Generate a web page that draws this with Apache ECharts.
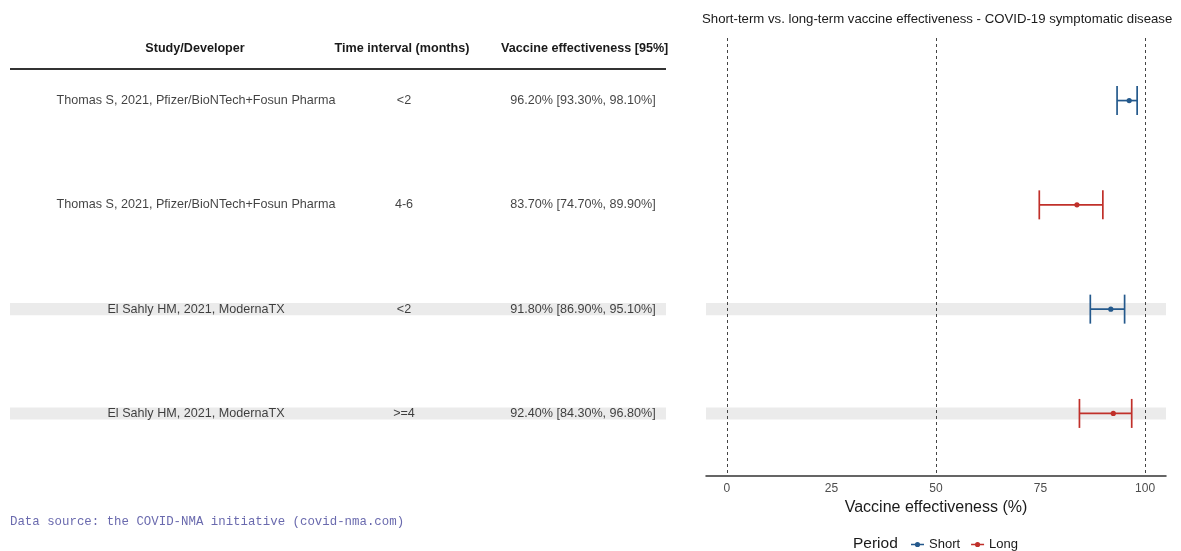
<!DOCTYPE html>
<html>
<head>
<meta charset="utf-8">
<script src="https://cdn.jsdelivr.net/npm/echarts@6/dist/echarts.min.js"></script>
<style>
html,body{margin:0;padding:0;background:#fff;}
#chart{width:1181px;height:551px;}
</style>
</head>
<body>
<div id="chart"></div>
<script>
// ---- data ----
const studies = [
  'Thomas S, 2021, Pfizer/BioNTech+Fosun Pharma',
  'Thomas S, 2021, Pfizer/BioNTech+Fosun Pharma',
  'El Sahly HM, 2021, ModernaTX',
  'El Sahly HM, 2021, ModernaTX'
];
const intervals = ['<2', '4-6', '<2', '>=4'];
const periods = ['Short', 'Long', 'Short', 'Long'];
const estimates = [96.2, 83.7, 91.8, 92.4];
const lowers = [93.3, 74.7, 86.9, 84.3];
const uppers = [98.1, 89.9, 95.1, 96.8];
const shaded = [false, false, true, true];
const xTicks = [0, 25, 50, 75, 100];
const refLines = [0, 50, 100];
const periodNames = ['Short', 'Long'];

// ---- styling ----
const FONT = '"Liberation Sans", Arial, sans-serif';
const colors = { Short: '#24598c', Long: '#c0302a' };
const rows = studies.map((_, i) => i + 1);
const bandHalf = 0.058;
const colStudy = 196, colInterval = 404, colVE = 583;
const TFS = 12.6;

const fmt = v => v.toFixed(2) + '%';
const veText = estimates.map((e, i) => `${fmt(e)} [${fmt(lowers[i])}, ${fmt(uppers[i])}]`);

const bandData = rows.filter((r, i) => shaded[i]).map(r => [{ yAxis: r - bandHalf }, { yAxis: r + bandHalf }]);

function textSeries(col, texts) {
  return {
    type: 'scatter', xAxisIndex: 0, yAxisIndex: 0, silent: true,
    symbol: 'circle', symbolSize: 1, itemStyle: { color: 'transparent' },
    data: rows.map((r, i) => ({ value: [col, r], txt: texts[i] })),
    label: { show: true, position: 'inside', color: '#111', fontSize: TFS, fontFamily: FONT,
      formatter: p => p.data.txt },
    z: 3
  };
}

function errSeries(name) {
  const data = [];
  rows.forEach((r, i) => { if (periods[i] === name) data.push([lowers[i], uppers[i], estimates[i], r]); });
  return {
    name, type: 'custom', xAxisIndex: 1, yAxisIndex: 1, silent: true,
    itemStyle: { color: colors[name] },
    encode: { x: [0, 1, 2], y: 3 },
    data,
    z: 4,
    renderItem: (params, api) => {
      const lo = api.coord([api.value(0), api.value(3)]);
      const hi = api.coord([api.value(1), api.value(3)]);
      const est = api.coord([api.value(2), api.value(3)]);
      const h = 14.5;
      const st = { stroke: colors[name], lineWidth: 1.7 };
      return { type: 'group', children: [
        { type: 'line', shape: { x1: lo[0], y1: lo[1], x2: hi[0], y2: hi[1] }, style: st },
        { type: 'line', shape: { x1: lo[0], y1: lo[1] - h, x2: lo[0], y2: lo[1] + h }, style: st },
        { type: 'line', shape: { x1: hi[0], y1: hi[1] - h, x2: hi[0], y2: hi[1] + h }, style: st },
        { type: 'circle', shape: { cx: est[0], cy: est[1], r: 2.6 }, style: { fill: colors[name] } }
      ]};
    }
  };
}

const chart = echarts.init(document.getElementById('chart'), null, { renderer: 'canvas' });
const option = {
  animation: false,
  backgroundColor: '#ffffff',
  textStyle: { fontFamily: FONT },
  title: {
    text: 'Short-term vs. long-term vaccine effectiveness - COVID-19 symptomatic disease',
    left: 697, top: 8,
    textStyle: { fontSize: 13.2, fontWeight: 'normal', color: '#1a1a1a', fontFamily: FONT }
  },
  grid: [
    { left: 10, width: 656, top: 38, height: 438 },
    { left: 706, width: 460, top: 38, height: 438 }
  ],
  xAxis: [
    { gridIndex: 0, type: 'value', min: 10, max: 666, show: false },
    { gridIndex: 1, type: 'value', min: -5, max: 105,
      axisLine: { show: true, onZero: false, lineStyle: { color: '#333', width: 1.5 } },
      axisTick: { show: false },
      splitLine: { show: false },
      axisLabel: { customValues: xTicks, color: '#4d4d4d', fontSize: 12, margin: 7, fontFamily: FONT },
      name: 'Vaccine effectiveness (%)', nameLocation: 'middle', nameGap: 23,
      nameTextStyle: { fontSize: 16, color: '#1a1a1a', fontFamily: FONT }
    }
  ],
  yAxis: [
    { gridIndex: 0, type: 'value', min: 0.4, max: 4.6, inverse: true, show: false },
    { gridIndex: 1, type: 'value', min: 0.4, max: 4.6, inverse: true, show: false }
  ],
  legend: {
    data: periodNames.map(n => ({
      name: n,
      icon: 'path://M0 5.3 H13 V6.7 H0 Z M9.1 6 A2.6 2.6 0 1 1 3.9 6 A2.6 2.6 0 1 1 9.1 6 Z',
      itemStyle: { color: colors[n] }
    })),
    left: 906, top: 533, itemWidth: 13, itemHeight: 6, itemGap: 11,
    textStyle: { fontSize: 13, color: '#1a1a1a', fontFamily: FONT },
    selectedMode: false
  },
  graphic: [
    { type: 'text', x: 853, y: 544, style: { text: 'Period', fontSize: 15.5, fill: '#1a1a1a', fontFamily: FONT, align: 'left', verticalAlign: 'middle' } },
    { type: 'text', x: 195, y: 49, style: { text: 'Study/Developer', fontSize: TFS, fontWeight: 'bold', fill: '#1a1a1a', fontFamily: FONT, align: 'center', verticalAlign: 'middle' } },
    { type: 'text', x: 402, y: 49, style: { text: 'Time interval (months)', fontSize: TFS, fontWeight: 'bold', fill: '#1a1a1a', fontFamily: FONT, align: 'center', verticalAlign: 'middle' } },
    { type: 'text', x: 501, y: 49, style: { text: 'Vaccine effectiveness [95%]', fontSize: TFS, fontWeight: 'bold', fill: '#1a1a1a', fontFamily: FONT, align: 'left', verticalAlign: 'middle' } },
    { type: 'line', shape: { x1: 10, y1: 69, x2: 666, y2: 69 }, style: { stroke: '#333', lineWidth: 2 } },
    { type: 'text', x: 10, y: 522, style: { text: 'Data source: the COVID-NMA initiative (covid-nma.com)', fontSize: 12.4, fill: '#6a6aae', fontFamily: '"Liberation Mono", "Courier New", monospace', align: 'left', verticalAlign: 'middle' } }
  ],
  series: [
    { type: 'scatter', xAxisIndex: 0, yAxisIndex: 0, data: [], silent: true, z: 1,
      markArea: { silent: true, itemStyle: { color: '#ebebeb' }, data: bandData } },
    { type: 'scatter', xAxisIndex: 1, yAxisIndex: 1, data: [], silent: true, z: 1,
      markArea: { silent: true, itemStyle: { color: '#ebebeb' }, data: bandData },
      markLine: { silent: true, symbol: 'none', label: { show: false },
        lineStyle: { color: '#444', width: 1, type: [3, 3] },
        data: refLines.map(v => ({ xAxis: v })) } },
    textSeries(colStudy, studies),
    textSeries(colInterval, intervals),
    textSeries(colVE, veText),
    errSeries('Short'),
    errSeries('Long')
  ]
};
chart.setOption(option);
</script>
</body>
</html>
